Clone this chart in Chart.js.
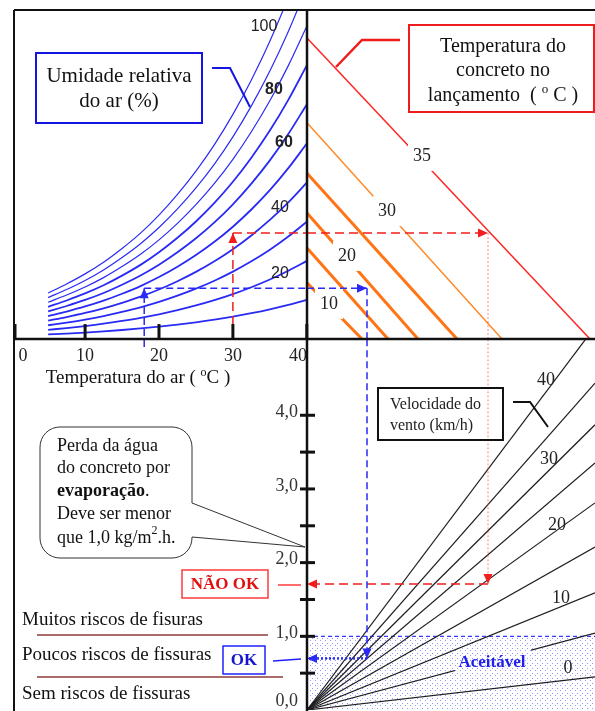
<!DOCTYPE html>
<html>
<head>
<meta charset="utf-8">
<script src="https://cdn.jsdelivr.net/npm/chart.js@4.4.1/dist/chart.umd.min.js"></script>
<style>
  html, body { margin: 0; padding: 0; background: #fff; }
  canvas { display: block; }
</style>
</head>
<body>
<canvas id="nomo" width="595" height="711"></canvas>
<script>
var airTemps   = [5, 7.5, 10, 12.5, 15, 17.5, 20, 22.5, 25, 27.5, 30, 32.5, 35, 37.5, 40];
var satVapour  = [0.87, 1.04, 1.23, 1.45, 1.71, 2.00, 2.34, 2.73, 3.17, 3.67, 4.24, 4.89, 5.62, 6.45, 7.38]; // kPa
var humidity   = [10, 20, 30, 40, 50, 60, 70, 80, 90, 100];
var concreteTemps   = [10, 15, 20, 25, 30, 35];
var concreteVapour  = [1.06, 1.72, 2.38, 3.13, 4.08, 5.68];   // where each line meets the centre axis
var concreteDeficit = [1.10, 1.62, 2.22, 3.00, 3.90, 5.66];   // where each line meets the bottom
var windSpeeds = [0, 5, 10, 15, 20, 25, 30, 35, 40];
var windRates  = [0.078, 0.181, 0.276, 0.384, 0.488, 0.582, 0.672, 0.77, 0.903]; // kg/m2.h per kPa
var tempTicks  = [0, 10, 20, 30, 40];
var evapTicks  = [0.5, 1, 1.5, 2, 2.5, 3, 3.5, 4];
var evapLabels = [0, 1, 2, 3, 4];
var okCase  = { air: 18, vapour: 0.96, deficit: 1.2, evap: 0.7 };
var notCase = { air: 30, vapour: 2.0, deficit: 3.62, evap: 1.71 };

var AIR_END = 40, DEFICIT_END = 5.76, EVAP_TOP = 5.03;
var SERIF = '"Liberation Serif", "Times New Roman", serif';
var SANS = '"Liberation Sans", Arial, sans-serif';
var BLUE = '#2a2af5', RED = '#f21d1d', PINK = 'rgba(255,70,70,0.85)';

function seg(points, xID, yID, color, width, dash, arrow) {
    return {
        data: points.map(function(p) { return { x: p[0], y: p[1] }; }),
        xAxisID: xID, yAxisID: yID, showLine: true,
        borderColor: color, borderWidth: width, borderDash: dash || [],
        pointRadius: 0, arrow: arrow || null
    };
}

var datasets = [];

// guide arrows (first so they sit on top)
datasets.push(seg([[okCase.air, -0.15], [okCase.air, okCase.vapour]], 'xt', 'ye', BLUE, 1.5, [7, 4], BLUE));
datasets.push(seg([[okCase.air, okCase.vapour], [AIR_END, okCase.vapour]], 'xt', 'ye', BLUE, 1.5, [7, 4]));
datasets.push(seg([[0, okCase.vapour], [okCase.deficit, okCase.vapour]], 'xp', 'ye', BLUE, 1.5, [7, 4], BLUE));
datasets.push(seg([[okCase.deficit, okCase.vapour], [okCase.deficit, 0]], 'xp', 'ye', BLUE, 1.5, [7, 4]));
datasets.push(seg([[okCase.deficit, EVAP_TOP], [okCase.deficit, okCase.evap]], 'xp', 'yev', BLUE, 1.5, [7, 4], BLUE));
datasets.push(seg([[okCase.deficit, okCase.evap], [0, okCase.evap]], 'xp', 'yev', BLUE, 2.5, [2, 2], BLUE));

datasets.push(seg([[notCase.air, 0], [notCase.air, notCase.vapour]], 'xt', 'ye', RED, 1.5, [9, 5], RED));
datasets.push(seg([[notCase.air, notCase.vapour], [AIR_END, notCase.vapour]], 'xt', 'ye', RED, 1.5, [9, 5]));
datasets.push(seg([[0, notCase.vapour], [notCase.deficit, notCase.vapour]], 'xp', 'ye', RED, 1.5, [9, 5], RED));
datasets.push(seg([[notCase.deficit, notCase.vapour], [notCase.deficit, 0]], 'xp', 'ye', PINK, 0.8, [2, 2]));
datasets.push(seg([[notCase.deficit, EVAP_TOP], [notCase.deficit, notCase.evap]], 'xp', 'yev', PINK, 0.8, [2, 2], RED));
datasets.push(seg([[notCase.deficit, notCase.evap], [0, notCase.evap]], 'xp', 'yev', RED, 1.5, [9, 5], RED));

// relative humidity curves
humidity.forEach(function(h) {
    datasets.push({
        data: airTemps.map(function(t, i) { return { x: t, y: h / 100 * satVapour[i] }; }),
        xAxisID: 'xt', yAxisID: 'ye', showLine: true, pointRadius: 0,
        cubicInterpolationMode: 'monotone',
        borderColor: BLUE, borderWidth: h >= 80 ? 1.2 : 1.8
    });
});

// concrete temperature lines
concreteTemps.forEach(function(tc, i) {
    var color = tc === 35 ? '#ff2424' : (tc === 30 ? '#ff8a2a' : '#ff7414');
    datasets.push({
        data: [{ x: 0, y: concreteVapour[i] }, { x: concreteDeficit[i], y: 0 }],
        xAxisID: 'xp', yAxisID: 'ye', showLine: true, pointRadius: 0,
        borderColor: color, borderWidth: tc >= 30 ? 1.5 : 3
    });
});

// wind speed lines
windSpeeds.forEach(function(v, i) {
    var end = Math.min(DEFICIT_END, EVAP_TOP / windRates[i]);
    datasets.push({
        data: [{ x: 0, y: 0 }, { x: end, y: windRates[i] * end }],
        xAxisID: 'xp', yAxisID: 'yev', showLine: true, pointRadius: 0,
        borderColor: '#1e1e1e', borderWidth: 1.2
    });
});

function line(ctx, x1, y1, x2, y2) {
    ctx.beginPath(); ctx.moveTo(x1, y1); ctx.lineTo(x2, y2); ctx.stroke();
}
function poly(ctx, pts) {
    ctx.beginPath(); ctx.moveTo(pts[0][0], pts[0][1]);
    for (var i = 1; i < pts.length; i++) ctx.lineTo(pts[i][0], pts[i][1]);
    ctx.stroke();
}
function text(ctx, str, x, y, font, color, align) {
    ctx.font = font; ctx.fillStyle = color;
    ctx.textAlign = align || 'center'; ctx.textBaseline = 'middle';
    ctx.fillText(str, x, y);
}
// several runs of text on one line (for bold words and superscripts)
function runs(ctx, parts, x, y, align, color) {
    var total = 0;
    parts.forEach(function(p) { ctx.font = p.font; total += ctx.measureText(p.t).width; });
    var cx = align === 'center' ? x - total / 2 : x;
    ctx.textAlign = 'left'; ctx.textBaseline = 'middle'; ctx.fillStyle = color;
    parts.forEach(function(p) {
        ctx.font = p.font;
        ctx.fillText(p.t, cx, y + (p.dy || 0));
        cx += ctx.measureText(p.t).width;
    });
}
function arrowHead(ctx, x0, y0, x1, y1, color) {
    var a = Math.atan2(y1 - y0, x1 - x0), len = 10, half = 4.5;
    ctx.fillStyle = color;
    ctx.beginPath();
    ctx.moveTo(x1, y1);
    ctx.lineTo(x1 - len * Math.cos(a) + half * Math.sin(a), y1 - len * Math.sin(a) - half * Math.cos(a));
    ctx.lineTo(x1 - len * Math.cos(a) - half * Math.sin(a), y1 - len * Math.sin(a) + half * Math.cos(a));
    ctx.closePath(); ctx.fill();
}
function dots(ctx) {
    var c = document.createElement('canvas');
    c.width = 5; c.height = 5;
    var g = c.getContext('2d');
    g.fillStyle = 'rgba(60,60,255,0.55)';
    g.fillRect(0, 0, 1, 1);
    g.fillRect(2, 3, 1, 1);
    return ctx.createPattern(c, 'repeat');
}

var nomogram = {
    id: 'nomogram',
    beforeDatasetsDraw: function(chart) {
        var ctx = chart.ctx, a = chart.chartArea, s = chart.scales;
        var x0 = s.xp.getPixelForValue(0);
        var yTop = s.yev.getPixelForValue(1), yBot = s.yev.getPixelForValue(0);
        ctx.save();
        ctx.fillStyle = dots(ctx);
        ctx.fillRect(x0, yTop, a.right - x0, yBot - yTop);
        ctx.setLineDash([4, 3]);
        ctx.strokeStyle = '#3a3aff'; ctx.lineWidth = 1.3;
        line(ctx, x0, yTop, a.right, yTop);
        ctx.restore();
    },
    afterDatasetsDraw: function(chart) {
        var ctx = chart.ctx, a = chart.chartArea, s = chart.scales;
        var midX = s.xp.getPixelForValue(0), midY = s.ye.getPixelForValue(0);
        ctx.save();

        // arrow heads at the ends of the guide lines
        chart.data.datasets.forEach(function(ds, i) {
            if (!ds.arrow) return;
            var pts = chart.getDatasetMeta(i).data, n = pts.length;
            arrowHead(ctx, pts[n - 2].x, pts[n - 2].y, pts[n - 1].x, pts[n - 1].y, ds.arrow);
        });

        // frame and centre axes
        ctx.strokeStyle = '#111'; ctx.lineWidth = 2;
        line(ctx, a.left, a.top, a.left, a.bottom + 1);
        line(ctx, a.left, a.top, a.right, a.top);
        ctx.lineWidth = 2.5;
        line(ctx, midX, a.top, midX, a.bottom + 1);
        line(ctx, a.left, midY, a.right, midY);

        // air temperature ticks and labels
        ctx.lineWidth = 3;
        tempTicks.forEach(function(t) {
            var x = Math.max(a.left + 1, s.xt.getPixelForValue(t));
            line(ctx, x, midY - 15, x, midY);
            var lx = Math.min(Math.max(x, a.left + 9), midX - 9);
            text(ctx, String(t), lx, midY + 17, '18px ' + SERIF, '#222');
        });
        runs(ctx, [
            { t: 'Temperatura do ar ( ', font: '19px ' + SERIF },
            { t: 'o', font: '12px ' + SERIF, dy: -5 },
            { t: 'C )', font: '19px ' + SERIF }
        ], 138, midY + 39, 'center', '#111');

        // evaporation ticks and labels
        evapTicks.forEach(function(e) {
            var y = s.yev.getPixelForValue(e);
            line(ctx, midX - 7, y, midX + 8, y);
        });
        evapLabels.forEach(function(e) {
            var y = Math.min(s.yev.getPixelForValue(e) - 3, a.bottom - 9);
            text(ctx, e.toFixed(1).replace('.', ','), midX - 9, y, '18px ' + SERIF, '#333', 'right');
        });

        // humidity labels
        text(ctx, '100', 264, 27, '16px ' + SANS, '#222');
        text(ctx, '80', 274, 90, 'bold 16px ' + SANS, '#222');
        text(ctx, '60', 284, 143, 'bold 16px ' + SANS, '#222');
        text(ctx, '40', 280, 208, '16px ' + SANS, '#222');
        text(ctx, '20', 280, 274, '16px ' + SANS, '#222');

        // concrete temperature labels, breaking their lines
        [['35', 422, 156], ['30', 387, 211], ['20', 347, 256], ['10', 329, 304]].forEach(function(l) {
            ctx.fillStyle = '#fff';
            ctx.fillRect(l[1] - 14, l[2] - 15, 28, 30);
            text(ctx, l[0], l[1], l[2], '18px ' + SERIF, '#222');
        });

        // wind labels
        [['40', 546, 380], ['30', 549, 459], ['20', 557, 525], ['10', 561, 598], ['0', 568, 668]].forEach(function(l) {
            text(ctx, l[0], l[1], l[2], '18px ' + SERIF, '#222');
        });

        // "Aceitável" sits on the 5 km/h line
        var p1 = 455, p2 = 531;
        var q1 = s.yev.getPixelForValue(windRates[1] * s.xp.getValueForPixel(p1));
        var q2 = s.yev.getPixelForValue(windRates[1] * s.xp.getValueForPixel(p2));
        ctx.beginPath();
        ctx.moveTo(p1, q1 - 9); ctx.lineTo(p2, q2 - 9); ctx.lineTo(p2, q2 + 9); ctx.lineTo(p1, q1 + 9);
        ctx.closePath();
        ctx.fillStyle = '#fff'; ctx.fill();
        ctx.fillStyle = dots(ctx); ctx.fill();
        text(ctx, 'Aceitável', 492, 663, 'bold 17px ' + SERIF, '#2020e8');

        // humidity box
        ctx.lineWidth = 2; ctx.strokeStyle = '#1515e0';
        ctx.strokeRect(36, 53, 166, 70);
        poly(ctx, [[212, 68], [230, 68], [250, 107]]);
        text(ctx, 'Umidade relativa', 119, 76, '21px ' + SERIF, '#111');
        text(ctx, 'do ar (%)', 119, 101, '21px ' + SERIF, '#111');

        // concrete temperature box
        ctx.strokeStyle = '#ee1c1c'; ctx.lineWidth = 2;
        ctx.strokeRect(409, 25, 185, 87);
        ctx.lineWidth = 2.5;
        poly(ctx, [[400, 40], [362, 40], [336, 67]]);
        text(ctx, 'Temperatura do', 503, 47, '20px ' + SERIF, '#111');
        text(ctx, 'concreto no', 503, 71, '20px ' + SERIF, '#111');
        runs(ctx, [
            { t: 'lançamento  ( ', font: '20px ' + SERIF },
            { t: 'o', font: '13px ' + SERIF, dy: -6 },
            { t: ' C )', font: '20px ' + SERIF }
        ], 503, 96, 'center', '#111');

        // wind box
        ctx.strokeStyle = '#111'; ctx.lineWidth = 2;
        ctx.strokeRect(378, 388, 125, 52);
        poly(ctx, [[513, 402], [530, 402], [548, 427]]);
        text(ctx, 'Velocidade do', 390, 405, '16px ' + SERIF, '#222', 'left');
        text(ctx, 'vento (km/h)', 390, 426, '16px ' + SERIF, '#222', 'left');

        // speech bubble
        var L = 40, T = 427, R = 192, B = 558, r = 20;
        ctx.beginPath();
        ctx.moveTo(L + r, T);
        ctx.lineTo(R - r, T);
        ctx.arcTo(R, T, R, T + r, r);
        ctx.lineTo(R, 503);
        ctx.lineTo(midX - 2, 547);
        ctx.lineTo(R, 537);
        ctx.lineTo(R, B - r);
        ctx.arcTo(R, B, R - r, B, r);
        ctx.lineTo(L + r, B);
        ctx.arcTo(L, B, L, B - r, r);
        ctx.lineTo(L, T + r);
        ctx.arcTo(L, T, L + r, T, r);
        ctx.closePath();
        ctx.fillStyle = '#fff'; ctx.fill();
        ctx.strokeStyle = '#333'; ctx.lineWidth = 1;
        ctx.stroke();
        var f = '18px ' + SERIF;
        text(ctx, 'Perda da água', 57, 446, f, '#111', 'left');
        text(ctx, 'do concreto por', 57, 468, f, '#111', 'left');
        runs(ctx, [{ t: 'evaporação', font: 'bold ' + f }, { t: '.', font: f }], 57, 491, 'left', '#111');
        text(ctx, 'Deve ser menor', 57, 514, f, '#111', 'left');
        runs(ctx, [
            { t: 'que 1,0 kg/m', font: f },
            { t: '2', font: '12px ' + SERIF, dy: -7 },
            { t: '.h.', font: f }
        ], 57, 538, 'left', '#111');

        // cracking risk bands
        text(ctx, 'Muitos riscos de fisuras', 22, 620, '19px ' + SERIF, '#111', 'left');
        text(ctx, 'Poucos riscos de fissuras', 22, 655, '19px ' + SERIF, '#111', 'left');
        text(ctx, 'Sem riscos de fissuras', 22, 694, '19px ' + SERIF, '#111', 'left');
        ctx.strokeStyle = '#a86a6a'; ctx.lineWidth = 2;
        line(ctx, 37, 635, 268, 635);
        line(ctx, 37, 677, 283, 677);

        // verdict boxes
        ctx.strokeStyle = '#ff3b3b'; ctx.lineWidth = 1.5;
        ctx.strokeRect(182, 570, 86, 28);
        line(ctx, 278, 585, midX - 6, 585);
        text(ctx, 'NÃO OK', 225, 585, 'bold 17px ' + SERIF, '#e01010');
        ctx.strokeStyle = '#2020ff';
        ctx.strokeRect(223, 646, 42, 28);
        line(ctx, 273, 661, midX - 6, 659);
        text(ctx, 'OK', 244, 661, 'bold 17px ' + SERIF, '#1515d0');

        ctx.restore();
    }
};

var ctx = document.getElementById('nomo').getContext('2d');
var myChart = new Chart(ctx, {
    type: 'scatter',
    data: { datasets: datasets },
    options: {
        responsive: false,
        animation: false,
        devicePixelRatio: 1,
        events: [],
        layout: { padding: { left: 14, top: 10, right: 0, bottom: 1 } },
        plugins: { legend: { display: false }, tooltip: { enabled: false } },
        scales: {
            xt:  { type: 'linear', display: false, min: 0.38, max: 79.0 },
            xp:  { type: 'linear', display: false, min: -5.86, max: 5.76 },
            ye:  { type: 'linear', display: false, min: -7.0, max: 6.21 },
            yev: { type: 'linear', display: false, min: 0, max: 9.5 }
        }
    },
    plugins: [nomogram]
});
</script>
</body>
</html>
